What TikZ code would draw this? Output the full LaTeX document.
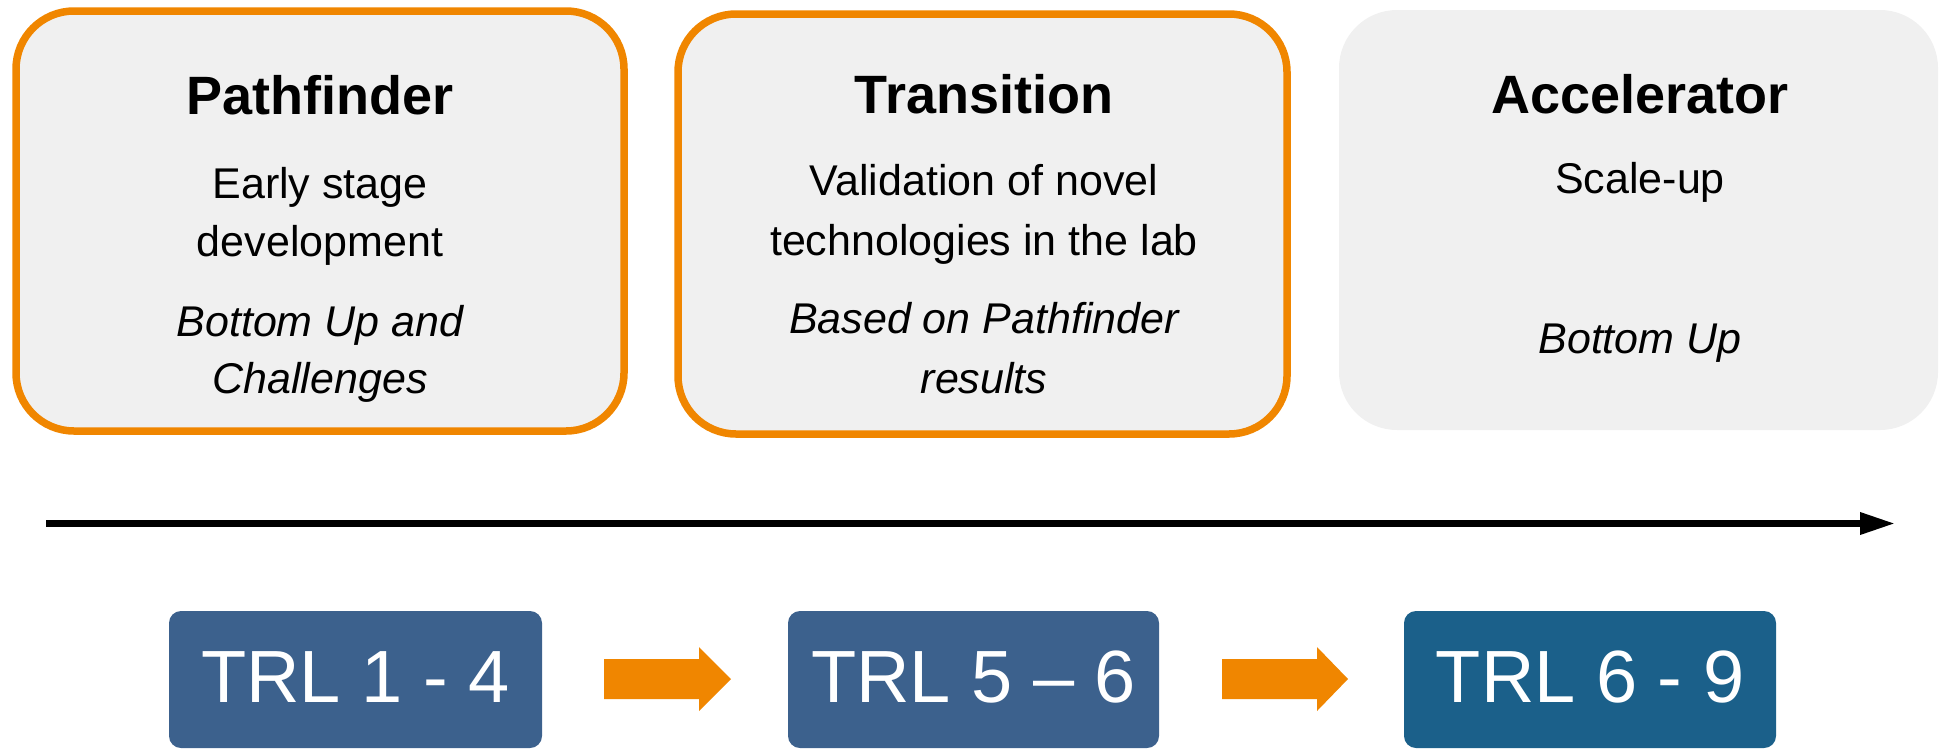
\documentclass[tikz,border=0pt]{standalone}
\usepackage{fontspec}
\setmainfont{Liberation Sans}
\usetikzlibrary{arrows.meta}
\definecolor{panelgray}{HTML}{F0F0F0}
\definecolor{accorange}{RGB}{240,134,0}
\definecolor{trlblue}{RGB}{60,97,141}
\definecolor{trlteal}{RGB}{27,96,138}
\begin{document}
\begin{tikzpicture}[x=0.5pt,y=-0.5pt,
  panel/.style={fill=panelgray, minimum height=210pt, inner sep=0pt, rounded corners=29pt},
  framed/.style={panel, draw=accorange, line width=3.75pt},
  ttl/.style={anchor=base, inner sep=0pt, font=\fontsize{27pt}{32pt}\selectfont\bfseries},
  body/.style={anchor=base, inner sep=0pt, font=\fontsize{21.5pt}{26pt}\selectfont},
  bodyit/.style={body, font=\fontsize{21.5pt}{26pt}\selectfont\itshape},
  trlbox/.style={fill=#1, text=white, rounded corners=6pt, minimum height=68.5pt,
     inner sep=0pt, text height=26.5pt, text depth=4pt,
     font=\fontsize{37pt}{44pt}\selectfont},
  flow/.style={fill=accorange},
  axis/.style={line width=3.25pt, -{Triangle[length=17.5pt,width=10.5pt]}}
]
\useasboundingbox (0,0) rectangle (1939,750);

% top panels
\node[framed, minimum width=304pt] (p1) at (320,221) {};
\node[framed, minimum width=304.5pt] (p2) at (982.5,224) {};
\node[panel, minimum width=299.5pt] (p3) at (1638.5,220) {};

% Pathfinder texts
\node[ttl] (p1t) at (320,114) {Pathfinder};
\node[body] (p1a) at (320,198) {Early stage};
\node[body] (p1b) at (320,256) {development};
\node[bodyit] (p1c) at (320,336) {Bottom Up and};
\node[bodyit] (p1d) at (320,393) {Challenges};

% Transition texts
\node[ttl] (p2t) at (984,113) {Transition};
\node[body] (p2a) at (984,195) {Validation of novel};
\node[body] (p2b) at (984,255) {technologies in the lab};
\node[bodyit] (p2c) at (984,333) {Based on Pathfinder};
\node[bodyit] (p2d) at (984,393) {results};

% Accelerator texts
\node[ttl] (p3t) at (1640,113) {Accelerator};
\node[body] (p3a) at (1640,193) {Scale-up};
\node[bodyit] (p3c) at (1640,353) {Bottom Up};

% timeline arrow
\coordinate (ax0) at (46,523.5);
\coordinate (ax1) at (1895,523.5);
\draw[axis] (ax0) -- (ax1);

% TRL boxes
\node[trlbox=trlblue, minimum width=186.5pt] (t1) at (355.5,679.5) {TRL 1 - 4};
\node[trlbox=trlblue, minimum width=185.5pt] (t2) at (973.5,679.5) {TRL 5 – 6};
\node[trlbox=trlteal, minimum width=186pt] (t3) at (1590,679.5) {TRL 6 - 9};

% orange block arrows
\coordinate (f1) at (604,659);
\coordinate (f2) at (1222,659);
\fill[flow] (f1) -- ++(95,0) -- ++(0,-12) -- ++(32,32) -- ++(-32,32) -- ++(0,-12) -- ++(-95,0) -- cycle;
\fill[flow] (f2) -- ++(95,0) -- ++(0,-12) -- ++(31,32) -- ++(-31,32) -- ++(0,-12) -- ++(-95,0) -- cycle;
\end{tikzpicture}
\end{document}
